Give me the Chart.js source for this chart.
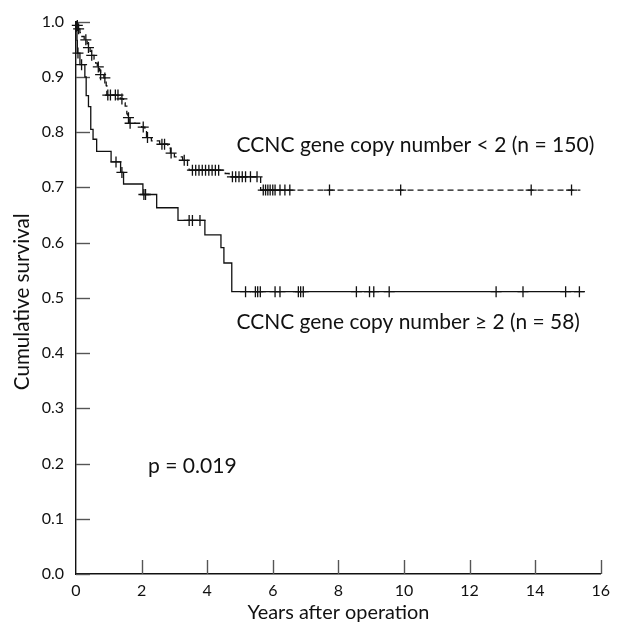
<!DOCTYPE html>
<html>
<head>
<meta charset="utf-8">
<script src="https://cdn.jsdelivr.net/npm/chart.js@4.4.1/dist/chart.umd.min.js"></script>
<style>
  html, body { margin: 0; padding: 0; background: #fff; }
  canvas { display: block; }
</style>
</head>
<body>
<canvas id="c" width="617" height="626"></canvas>
<script>
// ---- Data ----
// Group CCNC gene copy number < 2 (n = 150): step times (years) and survival after each step
const lowCopyTimes = [0, 0.02, 0.06, 0.12, 0.18, 0.25, 0.34, 0.38, 0.43, 0.47, 0.55, 0.60, 0.65, 0.72, 0.75, 0.85, 0.92, 0.94, 1.35, 1.45, 1.50, 1.55, 1.58, 1.62, 2.00, 2.10, 2.15, 2.30, 2.55, 2.80, 2.88, 3.00, 3.25, 3.40, 3.45, 4.55, 4.67, 5.63, 15.38];
const lowCopySurv  = [1.0, 0.993, 0.987, 0.980, 0.973, 0.967, 0.960, 0.953, 0.946, 0.939, 0.932, 0.925, 0.918, 0.911, 0.904, 0.898, 0.884, 0.867, 0.860, 0.853, 0.847, 0.833, 0.826, 0.816, 0.809, 0.802, 0.790, 0.784, 0.778, 0.771, 0.762, 0.755, 0.749, 0.738, 0.731, 0.725, 0.719, 0.695, 0.695];
const lowCopyCensored = [0.04, 0.08, 0.30, 0.38, 0.48, 0.68, 0.75, 0.88, 0.97, 1.05, 1.20, 1.28, 1.40, 1.60, 1.65, 2.05, 2.18, 2.62, 2.70, 2.90, 3.30, 3.55, 3.65, 3.75, 3.85, 3.95, 4.05, 4.15, 4.25, 4.35, 4.77, 4.87, 4.97, 5.07, 5.17, 5.32, 5.52, 5.71, 5.78, 5.85, 5.92, 6.00, 6.07, 6.22, 6.37, 6.52, 7.73, 9.90, 13.88, 15.11];

// Group CCNC gene copy number >= 2 (n = 58)
const highCopyTimes = [0, 0.01, 0.03, 0.04, 0.12, 0.27, 0.31, 0.38, 0.45, 0.52, 0.63, 1.07, 1.36, 1.45, 2.04, 2.46, 3.11, 3.93, 4.42, 4.51, 4.75, 15.5];
const highCopySurv  = [1.0, 0.983, 0.966, 0.943, 0.922, 0.900, 0.866, 0.846, 0.805, 0.787, 0.765, 0.746, 0.727, 0.706, 0.687, 0.663, 0.640, 0.614, 0.591, 0.563, 0.511, 0.511];
const highCopyCensored = [0.06, 0.17, 1.22, 1.40, 2.07, 2.12, 3.45, 3.55, 3.78, 5.17, 5.47, 5.54, 5.62, 6.07, 6.22, 6.78, 6.85, 6.93, 8.55, 8.95, 9.08, 9.55, 12.81, 13.63, 14.93, 15.35];

const xTicks = [0, 2, 4, 6, 8, 10, 12, 14, 16];
const yTicks = [0.0, 0.1, 0.2, 0.3, 0.4, 0.5, 0.6, 0.7, 0.8, 0.9, 1.0];

const labelLow  = 'CCNC gene copy number < 2 (n = 150)';
const labelHigh = 'CCNC gene copy number \u2265 2 (n = 58)';
const pLabel    = 'p = 0.019';
const xTitle    = 'Years after operation';
const yTitle    = 'Cumulative survival';

// ---- helpers ----
const FONT = 'Lato, "Open Sans", sans-serif';
function stepPoints(ts, ss) { return ts.map((t, i) => ({ x: t, y: ss[i] })); }
function survAt(ts, ss, t) {
  let v = ss[0];
  for (let i = 0; i < ts.length; i++) { if (ts[i] <= t) v = ss[i]; }
  return v;
}
function censorPoints(cs, ts, ss) { return cs.map(t => ({ x: t, y: survAt(ts, ss, t) })); }

const INK = '#111';

const decor = {
  id: 'decor',
  beforeDatasetsDraw(chart) {
    const { ctx, chartArea: a, scales: { x, y } } = chart;
    ctx.save();
    ctx.strokeStyle = '#555';
    ctx.lineWidth = 1.4;
    yTicks.forEach(v => {
      const py = Math.round(y.getPixelForValue(v)) + 0.5;
      ctx.beginPath(); ctx.moveTo(a.left, py); ctx.lineTo(a.left + 14, py); ctx.stroke();
    });
    xTicks.forEach(v => {
      if (v === 0) return;
      const px = Math.round(x.getPixelForValue(v)) + 0.5;
      ctx.beginPath(); ctx.moveTo(px, a.bottom); ctx.lineTo(px, a.bottom - 14); ctx.stroke();
    });
    ctx.restore();
  },
  afterDraw(chart) {
    const { ctx, chartArea: a, scales: { x, y } } = chart;
    ctx.save();
    ctx.fillStyle = INK;
    function fitSize(txt, width) {
      ctx.font = '20px ' + FONT;
      return 20 * width / ctx.measureText(txt).width;
    }
    function drawAt(txt, size, left, baseline) {
      ctx.font = size.toFixed(2) + 'px ' + FONT;
      ctx.textAlign = 'left';
      ctx.textBaseline = 'alphabetic';
      ctx.fillText(txt, left, baseline);
    }
    const s1 = fitSize(labelLow, 358);
    const s2 = fitSize(labelHigh, 343.5);
    drawAt(labelLow, s1, 236.5, 152);
    drawAt(labelHigh, s2, 236.5, 329);
    drawAt(pLabel, s1, 148, 473);
    // x title
    const sx = fitSize(xTitle, 182);
    ctx.font = sx.toFixed(2) + 'px ' + FONT;
    ctx.textAlign = 'center';
    ctx.textBaseline = 'alphabetic';
    ctx.fillText(xTitle, (a.left + a.right) / 2, 619);
    // y title
    const sy = fitSize(yTitle, 177);
    ctx.font = sy.toFixed(2) + 'px ' + FONT;
    ctx.translate(22, (y.getPixelForValue(0.5)) + 4);
    ctx.rotate(-Math.PI / 2);
    ctx.textAlign = 'center';
    ctx.textBaseline = 'middle';
    ctx.fillText(yTitle, 0, 0);
    ctx.restore();
  }
};

new Chart(document.getElementById('c'), {
  type: 'scatter',
  data: {
    datasets: [
      {
        data: stepPoints(lowCopyTimes, lowCopySurv),
        showLine: true, stepped: 'before',
        borderColor: INK, borderWidth: 1.3, borderDash: [6, 4],
        pointRadius: 0, clip: false
      },
      {
        data: censorPoints(lowCopyCensored, lowCopyTimes, lowCopySurv),
        showLine: false, pointStyle: 'cross', pointRadius: 5.5,
        borderColor: INK, borderWidth: 1.3, clip: false
      },
      {
        data: stepPoints(highCopyTimes, highCopySurv),
        showLine: true, stepped: 'before',
        borderColor: INK, borderWidth: 1.3,
        pointRadius: 0, clip: false
      },
      {
        data: censorPoints(highCopyCensored, highCopyTimes, highCopySurv),
        showLine: false, pointStyle: 'cross', pointRadius: 5.5,
        borderColor: INK, borderWidth: 1.3, clip: false
      }
    ]
  },
  options: {
    responsive: false,
    animation: false,
    devicePixelRatio: 1,
    layout: { padding: { left: 0, top: 19, right: 8, bottom: 0 } },
    plugins: { legend: { display: false }, tooltip: { enabled: false } },
    scales: {
      x: {
        type: 'linear', min: 0, max: 16,
        afterFit: s => { s.height = 52; },
        afterBuildTicks: s => { s.ticks = xTicks.map(v => ({ value: v })); },
        grid: { display: false, drawTicks: false },
        border: { display: true, color: INK, width: 1.4 },
        ticks: { color: INK, padding: 7, font: { family: FONT, size: 16 }, callback: v => String(v) }
      },
      y: {
        type: 'linear', min: 0, max: 1,
        afterFit: s => { s.width = 76; },
        afterBuildTicks: s => { s.ticks = yTicks.map(v => ({ value: v })); },
        grid: { display: false, drawTicks: false },
        border: { display: true, color: INK, width: 1.4 },
        ticks: { color: INK, padding: 12, font: { family: FONT, size: 16 }, callback: v => Number(v).toFixed(1) }
      }
    }
  },
  plugins: [decor]
});
</script>
</body>
</html>
